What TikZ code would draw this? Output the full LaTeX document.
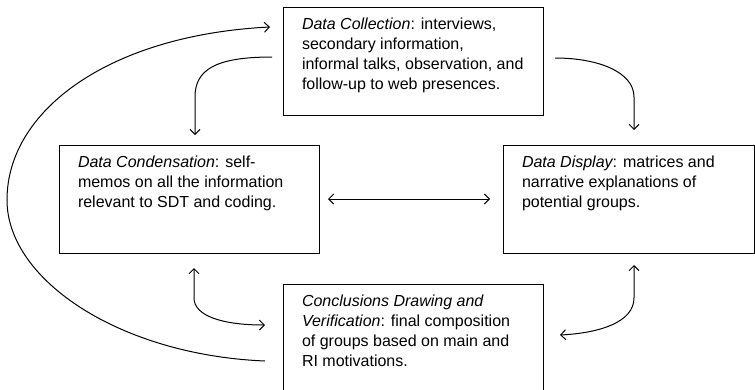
\documentclass[tikz,border=0pt]{standalone}
\usepackage{fontspec}
\setmainfont{Liberation Sans}
\usepackage{tikz}
\usetikzlibrary{arrows.meta}
\usetikzlibrary{calc}
\tikzset{b/.style={draw,line width=1pt,inner xsep=0pt,inner ysep=10pt,outer sep=0pt,anchor=north west,font=\fontsize{16}{20}\selectfont}}
\tikzset{c/.style={line width=1pt,>={Straight Barb[length=5pt,width=10pt]}}}
\newcommand{\boxtxt}[2]{\parbox[t][88pt][t]{#1}{\raggedright\leftskip=19pt\rule{0pt}{12pt}#2}}

\begin{document}
\begin{tikzpicture}[x=1pt,y=-1pt]
            \useasboundingbox (0,0) rectangle (755,389);
            \node[b] (coll) at (283,7) {\boxtxt{260pt}{{\itshape Data Collection}: interviews,\\ secondary information,\\ informal talks, observation, and\\ follow-up to web presences.}};
            \node[b] (cond) at (59,145) {\boxtxt{260pt}{{\itshape Data Condensation}: self-\\ memos on all the information\\ relevant to SDT and coding.}};
            \node[b] (disp) at (503,145) {\boxtxt{251pt}{{\itshape Data Display}: matrices and\\ narrative explanations of\\ potential groups.}};
            \node[b] (concl) at (283,284) {\boxtxt{260pt}{{\itshape Conclusions Drawing and}\\ {\itshape Verification}: final composition\\ of groups based on main and\\ RI motivations.}};
            \coordinate (lp) at (7,200);
            % outer loop back to collection
            \draw[c,->] ($(concl.west)+(-18,23)$) .. controls +(-145,-6) and +(0,80) .. (lp)
              .. controls +(0,-90) and +(-160,8) .. ($(coll.north west)+(-13,20)$);
            \draw[c,->] ($(coll.north west)+(-11,50)$) .. controls +(-57,0) and +(0,-27) .. ($(cond.north west)+(136,-48)$)
              -- ($(cond.north west)+(136,-10)$);
            \draw[c,->] ($(coll.north east)+(12,51)$) .. controls +(43,0) and +(0,-25) .. ($(disp.north west)+(131,-48)$)
              -- ($(disp.north west)+(131,-15)$);
            \draw[c,<->] ($(cond.east)+(9,0)$) -- ($(disp.west)+(-13,0)$);
            \draw[c,<->] ($(cond.south west)+(135,15)$) -- ++(0,30) .. controls +(0,17) and +(-45,0) .. ($(concl.west)+(-18,-13)$);
            \draw[c,<->] ($(disp.south west)+(131,12)$) -- ++(0,33) .. controls +(0,24) and +(40,-2) .. ($(concl.east)+(17,-3)$);
          \end{tikzpicture}
\end{document}
